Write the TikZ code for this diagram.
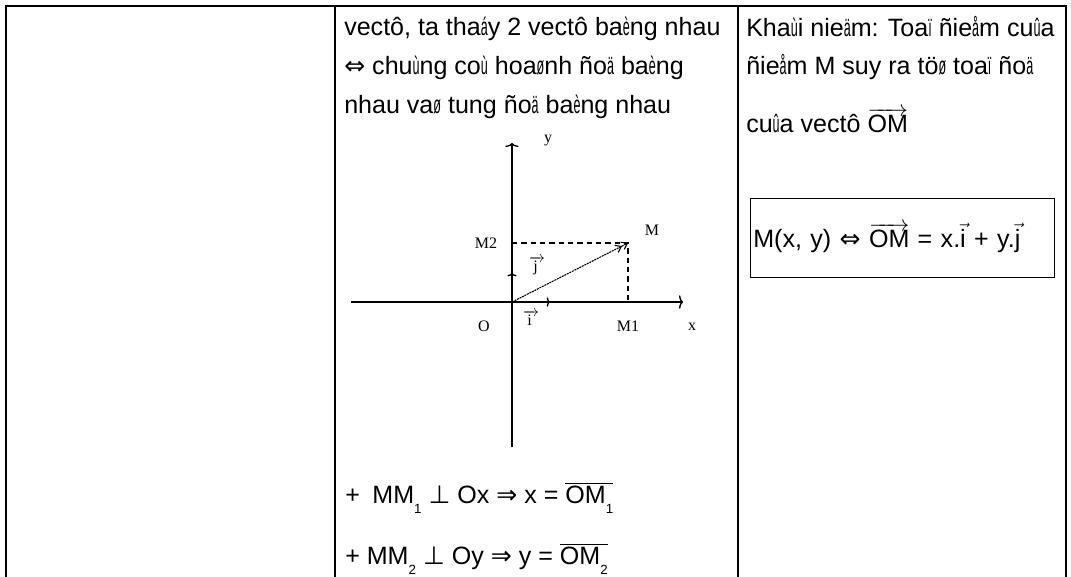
\documentclass[tikz,border=0pt]{standalone}
\usepackage{graphicx}
\usepackage{fontspec}
\setmainfont{Liberation Sans}
\newfontfamily\symfont{DejaVu Sans}
\newfontfamily\figfont{Liberation Serif}
\usetikzlibrary{arrows.meta,positioning}
\newcommand\nw[1]{\scalebox{0.5}[1]{#1}}
\newcommand\sym[1]{{\symfont #1}}
\newcommand\sub[1]{\raisebox{-0.4em}{\fontsize{10}{10}\selectfont #1}}

\begin{document}
\begin{tikzpicture}[x=0.75pt,y=-0.75pt,
    grid/.style={line width=1.9pt},
    txt/.style={anchor=base west,inner sep=0pt,font=\fontsize{18.8}{20}\selectfont},
    lbl/.style={inner sep=0pt,font=\figfont\fontsize{12}{13}\selectfont},
    axis/.style={line width=1pt,-{To[length=3pt,width=10pt]}},
    unit/.style={line width=1pt,-{To[length=2.5pt,width=7pt]}},
    vec/.style={line width=0.8pt,dash pattern=on 1.5pt off 0.6pt,-{Straight Barb[length=4pt,width=6pt]Straight Barb[length=4pt,width=6pt]}},
    guide/.style={line width=1pt,dash pattern=on 4pt off 3pt}]
    \useasboundingbox (0,0) rectangle (1071,577);
    % Table grid
    \draw[grid] (5,6) -- (1067,6);
    \foreach \gx in {6,335,738,1066}
        \draw[grid] (\gx,6) -- (\gx,577);
    % Middle column
    \node[txt] (t1) at (344,36) {vectô, ta tha\nw{á}y 2 vectô ba\nw{è}ng nhau};
    \node[txt] (t2) at (344,75) {\sym{⇔} chu\nw{ù}ng co\nw{ù} hoa\nw{ø}nh ño\nw{ä} ba\nw{è}ng};
    \node[txt] (t3) at (344,114) {nhau va\nw{ø} tung ño\nw{ä} ba\nw{è}ng nhau};
    % Figure
    \coordinate (O) at (512,302);
    \coordinate (M) at (628,243);
    \coordinate (M1) at (628,302);
    \coordinate (M2) at (512,243);
    \coordinate (xl) at (351,302);
    \coordinate (xr) at (683,302);
    \coordinate (yb) at (512,447);
    \coordinate (yt) at (512,143);
    \coordinate (ei) at (550,302);
    \coordinate (ej) at (512,273);
    \draw[axis] (xl) -- (xr);
    \draw[axis] (yb) -- (yt);
    \draw[unit] (O) -- (ei);
    \draw[unit] (O) -- (ej);
    \draw[guide] (M2) -- (M) -- (M1);
    \draw[vec] (O) -- (M);
    \node[lbl] (ly) at (548,141) {y};
    \node[lbl] (lM2) at (486,243) {M2};
    \node[lbl] (lM) at (652,230) {M};
    \node[lbl] (lj) at (537,266) {$\overrightarrow{\hbox{\,j\,\,}}$};
    \node[lbl] (li) at (531,318) {$\overrightarrow{\hbox{\,i\,\,}}$};
    \node[lbl] (lO) at (484,326) {O};
    \node[lbl] (lM1) at (628,326) {M1};
    \node[lbl] (lx) at (692,327) {x};
    % Bottom formulas
    \node[txt] (b1) at (345,503) {+\enspace MM\sub{1} \sym{⊥} Ox \sym{⇒} x = $\overline{\hbox{OM\sub{1}}}$};
    \node[txt] (b2) at (345,564) {+ MM\sub{2} \sym{⊥} Oy \sym{⇒} y = $\overline{\hbox{OM\sub{2}}}$};
    % Right column
    \node[txt] (r1) at (746,37) {Kha\nw{ù}i nie\nw{ä}m: Toa\nw{ï} ñie\nw{å}m cu\nw{û}a};
    \node[txt] (r2) at (746,75) {ñie\nw{å}m M suy ra tö\nw{ø} toa\nw{ï} ño\nw{ä}};
    \node[txt] (r3) at (746,133) {cu\nw{û}a vectô $\overrightarrow{\hbox{OM}}$};
    \node[draw,line width=1pt,anchor=north west,inner xsep=2pt,inner ysep=0pt,
        text width=224pt,minimum height=59pt,align=left,
        font=\fontsize{18.8}{20}\selectfont] (box) at (750,198)
        {M(x, y) \sym{⇔} $\overrightarrow{\hbox{OM}}$ = x.$\vec{\hbox{i}}$ + y.$\vec{\hbox{j}}$};
\end{tikzpicture}
\end{document}
